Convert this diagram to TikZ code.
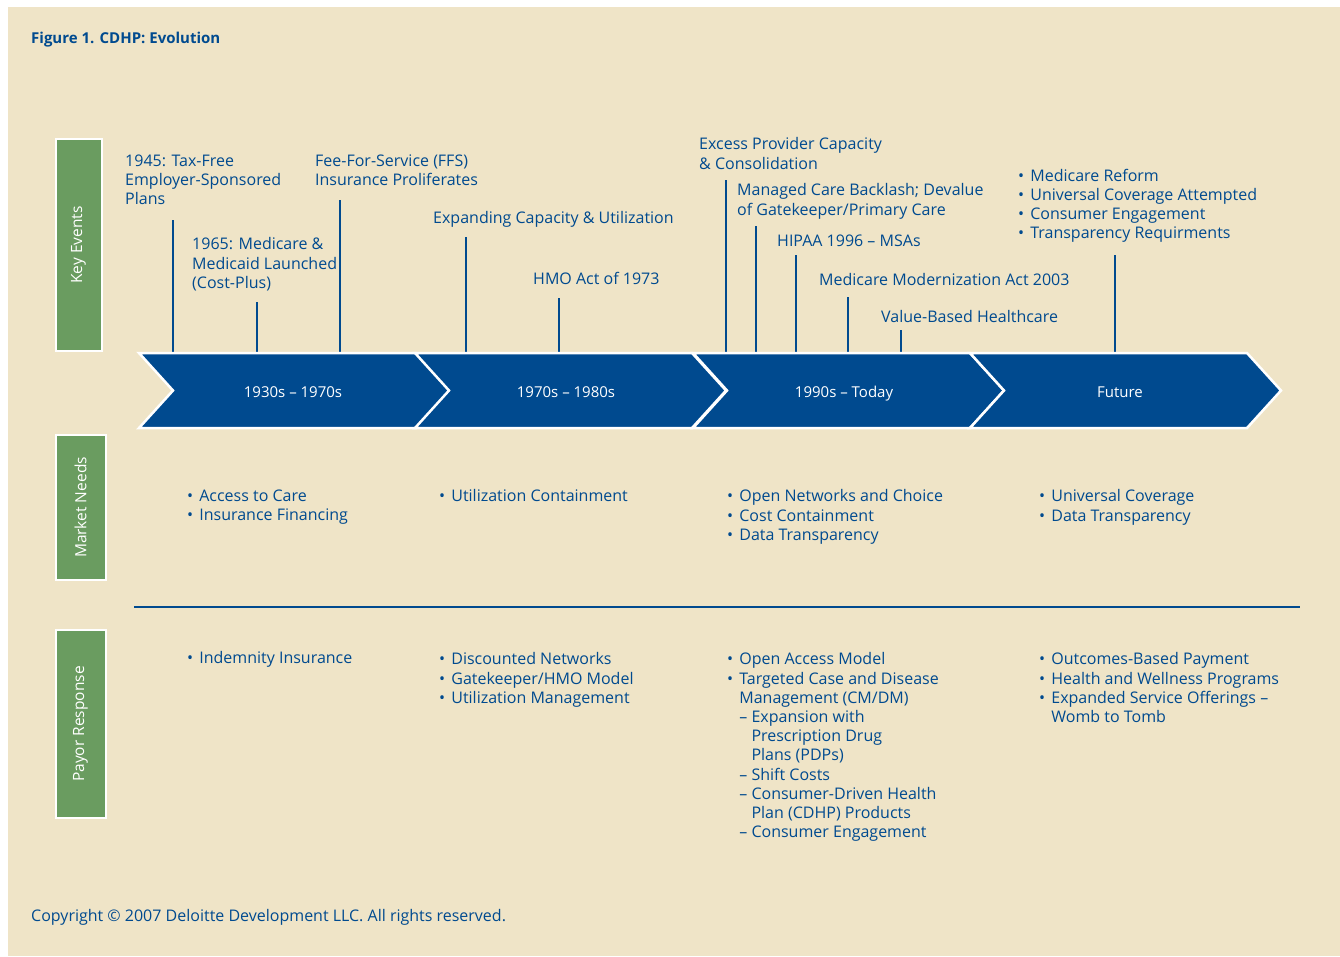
\documentclass[tikz,border=0pt]{standalone}
\usepackage{fontspec}
\setmainfont{Open Sans}
\usepackage{xcolor}
\usepackage{tikz}
\usetikzlibrary{calc}
\definecolor{cdblue}{RGB}{0,74,143}
\definecolor{cdgreen}{RGB}{106,156,96}
\definecolor{cdsand}{RGB}{239,228,199}
\newcommand{\bul}{•\ \hspace{2pt}}
\newcommand{\hang}{\phantom{•\ }\hspace{2pt}}

\begin{document}
\begin{tikzpicture}[x=1pt,y=-1pt]
  % text is placed by the baseline of its first line
  \tikzstyle{txt} = [anchor=north west,yshift=13.44pt,inner sep=0pt,align=left,text=cdblue,
    font=\fontsize{16}{19.2}\selectfont,execute at begin node=\strut]
  \tikzstyle{lines} = [yshift=-2pt]
  \tikzstyle{era} = [fill=cdblue,draw=white,line width=2.5pt,line join=miter]
  \tikzstyle{eralabel} = [anchor=base,text=white,font=\fontsize{15}{18}\selectfont]
  \tikzstyle{tick} = [draw=cdblue,line width=2.6pt]
  \tikzstyle{rowtag} = [fill=cdgreen,draw=white,line width=2pt,rotate=90,text=white,font=\fontsize{15.5}{18}\selectfont]
  %
  \useasboundingbox (0,0) rectangle (1340,956);
  \fill[white] (0,0) rectangle (1340,956);
  \fill[cdsand] (8,7) rectangle (1340,956);
  %
  \node[txt,font=\fontsize{15}{19.2}\selectfont\bfseries] (title) at (31,43) {Figure 1. CDHP: Evolution};
  %
  % Row tags.
  \node[rowtag,minimum width=212,minimum height=46] (keyev) at (78.5,245) {Key Events};
  \node[rowtag,minimum width=145,minimum height=50] (mneeds) at (80.5,507.5) {Market Needs};
  \node[rowtag,minimum width=188,minimum height=50] (payor) at (80.5,724) {Payor Response};
  %
  % Event ticks, down to the top of the arrows.
  \coordinate (bar) at (0,353);
  \foreach \x/\y [count=\i] in {173/220,257/302,340/200,466/237,559/298,726/180,756/226,796/255,848/297,901/330,1115/255} {
    \coordinate (ev\i) at (\x,\y);
    \draw[tick] (ev\i) -- (ev\i |- bar);
  }
  %
  % Era arrows.
  \foreach \x/\c/\lab [count=\i] in {139/293/1930s – 1970s,415/566/1970s – 1980s,693/844/1990s – Today,970/1120/Future} {
    \draw[era] (\x,353) -- ++(277,0) -- ++(34,37.5) -- ++(-34,37.5) -- ++(-277,0) -- ++(34,-37.5) -- cycle;
    \node[eralabel] (era\i) at (\c,397) {\lab};
  }
  %
  % Key events.
  \node[txt,lines] (k1945) at (125,166) {1945: Tax-Free\\Employer-Sponsored\\Plans};
  \node[txt,lines] (k1965) at (192,249) {1965: Medicare \&\\Medicaid Launched\\(Cost-Plus)};
  \node[txt,lines] (kffs) at (315,166) {Fee-For-Service (FFS)\\Insurance Proliferates};
  \node[txt] (kcap) at (433,223) {Expanding Capacity \& Utilization};
  \node[txt] (khmo) at (533,284) {HMO Act of 1973};
  \node[txt,lines] (kexc) at (699,149) {Excess Provider Capacity\\\& Consolidation};
  \node[txt,lines] (kmcb) at (737,195) {Managed Care Backlash; Devalue\\of Gatekeeper/Primary Care};
  \node[txt] (khip) at (777,246) {HIPAA 1996 – MSAs};
  \node[txt] (kmma) at (819,285) {Medicare Modernization Act 2003};
  \node[txt] (kvbh) at (881,322) {Value-Based Healthcare};
  \node[txt,lines] (kfut) at (1018,180) {\bul Medicare Reform\\\bul Universal Coverage Attempted\\\bul Consumer Engagement\\\bul Transparency Requirments};
  %
  % Market needs.
  \node[txt,lines] (m1) at (187,501) {\bul Access to Care\\\bul Insurance Financing};
  \node[txt] (m2) at (439,501) {\bul Utilization Containment};
  \node[txt,lines] (m3) at (727,501) {\bul Open Networks and Choice\\\bul Cost Containment\\\bul Data Transparency};
  \node[txt,lines] (m4) at (1039,501) {\bul Universal Coverage\\\bul Data Transparency};
  %
  \draw[tick,line width=2.5pt] (134,607) -- (1300,607);
  %
  % Payor response.
  \node[txt] (p1) at (187,663) {\bul Indemnity Insurance};
  \node[txt,lines] (p2) at (439,664) {\bul Discounted Networks\\\bul Gatekeeper/HMO Model\\\bul Utilization Management};
  \node[txt,lines] (p3) at (727,664) {\bul Open Access Model\\\bul Targeted Case and Disease\\\hang Management (CM/DM)\\
    \hang – Expansion with\\\hang\phantom{– }Prescription Drug\\\hang\phantom{– }Plans (PDPs)\\
    \hang – Shift Costs\\\hang – Consumer-Driven Health\\\hang\phantom{– }Plan (CDHP) Products\\\hang – Consumer Engagement};
  \node[txt,lines] (p4) at (1039,664) {\bul Outcomes-Based Payment\\\bul Health and Wellness Programs\\\bul Expanded Service Offerings –\\\hang Womb to Tomb};
  %
  \node[txt] (copy) at (31,921) {Copyright © 2007 Deloitte Development LLC. All rights reserved.};
\end{tikzpicture}
\end{document}
